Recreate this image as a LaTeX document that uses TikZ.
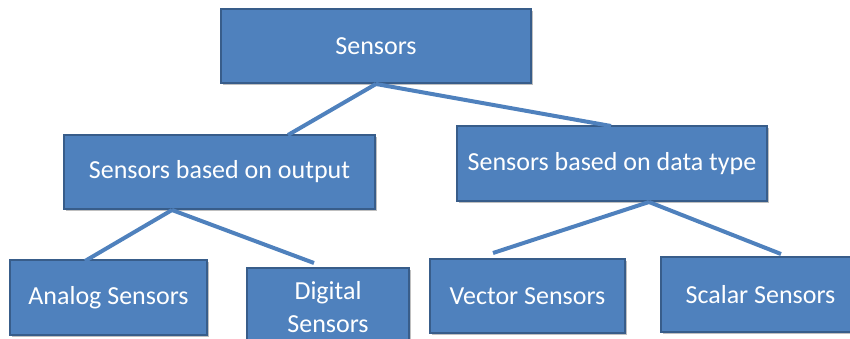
\documentclass[tikz,border=0pt]{standalone}
\usepackage{fontspec}
\setmainfont{Carlito}
\usetikzlibrary{shadows}
\definecolor{boxfill}{HTML}{4F81BD}
\definecolor{boxedge}{HTML}{385D8A}
\begin{document}
\begin{tikzpicture}[x=1pt,y=-1pt,
  sbox/.style={draw=boxedge, line width=2pt, fill=boxfill, text=white,
    font=\fontsize{26}{33}\selectfont, inner sep=0pt, align=center,
    drop shadow={shadow xshift=1.5pt, shadow yshift=-1.5pt, opacity=0.25, fill=black}},
  link/.style={draw=boxfill, line width=4pt}]
\useasboundingbox (0,0) rectangle (850,338);
\clip (0,0) rectangle (850,338);
\node[sbox, minimum width=310pt, minimum height=74pt] (root) at (376,46) {Sensors};
\node[sbox, minimum width=311pt, minimum height=74pt] (out) at (219.5,172) {Sensors based on output};
\node[sbox, minimum width=310pt, minimum height=75pt] (dtype) at (612,163.5) {Sensors based on data type};
\node[sbox, minimum width=197pt, minimum height=75pt] (analog) at (108.5,297.5) {Analog Sensors};
\node[sbox, minimum width=162pt, minimum height=78pt] (digital) at (328,307) {Digital\\Sensors};
\node[sbox, minimum width=195pt, minimum height=74pt] (vector) at (527.5,296) {Vector Sensors};
\node[sbox, minimum width=199pt, minimum height=75pt] (scalar) at (760.5,294.5) {Scalar Sensors};
\coordinate (eout) at (288,135);
\coordinate (edtype) at (611,126);
\coordinate (eanalog) at (85,261);
\coordinate (edigital) at (314,263);
\coordinate (evector) at (493,253);
\coordinate (escalar) at (781,254);
\draw[link] (root.south) -- (eout);
\draw[link] (root.south) -- (edtype);
\draw[link] ([xshift=-47.5pt]out.south) -- (eanalog);
\draw[link] ([xshift=-47.5pt]out.south) -- (edigital);
\draw[link] ([xshift=37pt]dtype.south) -- (evector);
\draw[link] ([xshift=37pt]dtype.south) -- (escalar);
\end{tikzpicture}
\end{document}
